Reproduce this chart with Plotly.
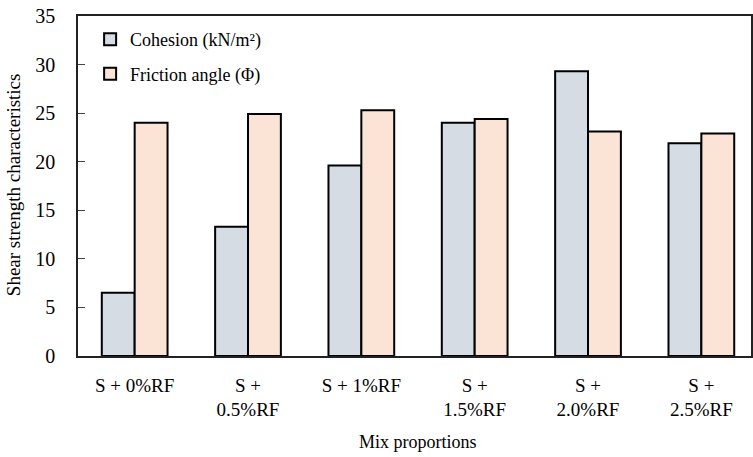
import plotly.graph_objects as go

categories = ["S + 0%RF", "S +<br>0.5%RF", "S + 1%RF", "S +<br>1.5%RF", "S +<br>2.0%RF", "S +<br>2.5%RF"]
cohesion = [6.5, 13.3, 19.6, 24.0, 29.3, 21.9]
friction = [24.0, 24.9, 25.3, 24.4, 23.1, 22.9]
y_ticks = [0, 5, 10, 15, 20, 25, 30, 35]

FONT = "Liberation Serif"

fig = go.Figure()
fig.add_trace(go.Bar(x=list(range(len(categories))), y=cohesion, name="Cohesion (kN/m²)",
                     marker=dict(color="#D6DCE4", line=dict(color="black", width=2)),
                     legendgroup="a"))
fig.add_trace(go.Bar(x=list(range(len(categories))), y=friction, name="Friction angle (Φ)",
                     marker=dict(color="#FBE4D5", line=dict(color="black", width=2)),
                     legendgroup="b"))

fig.update_layout(
    width=753, height=457,
    margin=dict(l=78, r=0, t=16, b=101),
    paper_bgcolor="white", plot_bgcolor="white",
    barmode="group", bargap=0.42, bargroupgap=0,
    font=dict(family=FONT, color="black", size=17),
    showlegend=True,
    legend=dict(x=0.018, y=0.985, xanchor="left", yanchor="top",
                font=dict(family=FONT, size=18), bgcolor="rgba(0,0,0,0)",
                tracegroupgap=8, itemwidth=30),
    xaxis=dict(
        tickmode="array", tickvals=list(range(len(categories))), ticktext=categories,
        range=[-0.5, 5.438], showline=True, mirror=True, linecolor="#222", linewidth=1.5,
        ticks="", showgrid=False, tickfont=dict(family=FONT, size=19),
        ticklabelstandoff=11, zeroline=False,
    ),
    yaxis=dict(
        range=[0, 35], tickvals=y_ticks, showline=True, mirror=True, linecolor="#222",
        linewidth=1.5, ticks="inside", ticklen=7, tickcolor="#444", tickwidth=1,
        showgrid=False, zeroline=False, tickfont=dict(family=FONT, size=20),
        ticklabelstandoff=17,
    ),
    annotations=[
        dict(text="Mix proportions", x=2.5, xref="x", y=-0.252, yref="paper",
             xanchor="center", yanchor="middle", showarrow=False,
             font=dict(family=FONT, size=18)),
        dict(text="Shear strength characteristics", x=-0.0948, xref="paper", y=0.503,
             yref="paper", xanchor="center", yanchor="middle", textangle=-90,
             showarrow=False, font=dict(family=FONT, size=19)),
    ],
)

fig.write_html("out.html")
